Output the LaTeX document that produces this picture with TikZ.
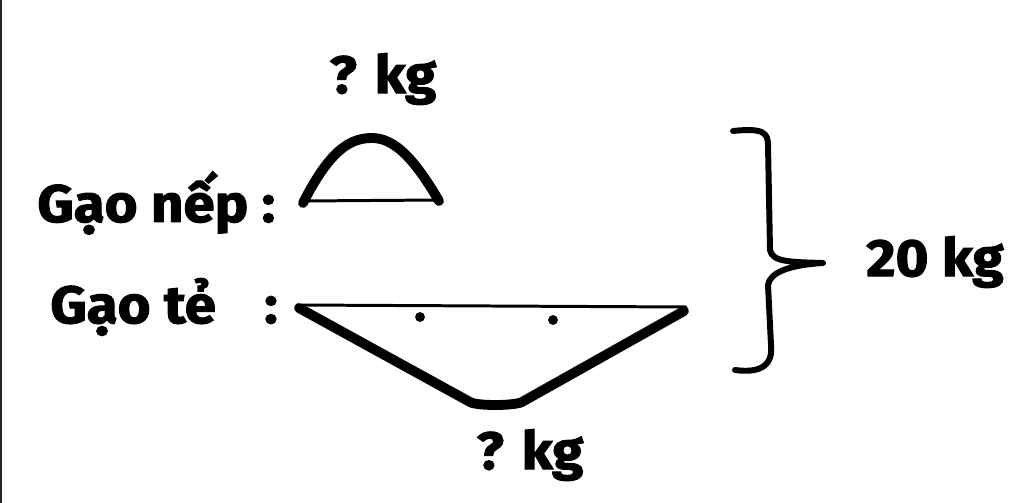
\documentclass[tikz,border=0pt]{standalone}
\usepackage{fontspec}
\setmainfont{Fira Sans}[FakeBold=2]
\begin{document}
\begin{tikzpicture}[x=0.02cm,y=-0.02cm,
  lbl/.style={font=\fontsize{30}{33}\selectfont\bfseries, inner sep=0pt, text=black, xscale=1.07},
  thick stroke/.style={line width=5.6pt, line cap=round, line join=round},
  thin stroke/.style={line width=1.7pt, line cap=round},
  brace stroke/.style={line width=3.4pt, line cap=round, line join=round},
  dotmark/.style={fill=black}]
\useasboundingbox (0,0) rectangle (1024,503);
\fill[white] (0,0) rectangle (1024,503);
\fill[black!85] (0,0) rectangle (2.5,503);
% labels
\node[lbl] (topq) at (383,79) {? kg};
\node[lbl, anchor=west] (nep) at (37,203) {Gạo nếp :};
\node[lbl, anchor=west] (te) at (50,307) {Gạo tẻ};
\node[lbl] (tecolon) at (271,310) {:};
\node[lbl] (total) at (935,262) {20 kg};
\node[lbl] (botq) at (530,455) {? kg};
% small arc
\draw[thick stroke] (303,203) .. controls (330,150) and (350,138) .. (372,138)
  .. controls (395,138) and (415,160) .. (439,201);
\draw[thin stroke] (303,201) -- (439,200);
% large shape
\draw[thin stroke] (297,305) -- (686,307);
\draw[thick stroke] (299,308) -- (470,402) .. controls (476,406) and (514,406) .. (522,402) -- (684,311);
\fill[dotmark] (420,317) circle[radius=2.8pt];
\fill[dotmark] (553,320) circle[radius=2.8pt];
% brace
\draw[brace stroke] (733,131) .. controls (762,128) and (768,132) .. (768,145)
  -- (770,250) .. controls (772,262) and (790,262) .. (823,263)
  .. controls (790,265) and (770,272) .. (768,285)
  -- (771,345) .. controls (774,372) and (750,372) .. (735,370);
\end{tikzpicture}
\end{document}
